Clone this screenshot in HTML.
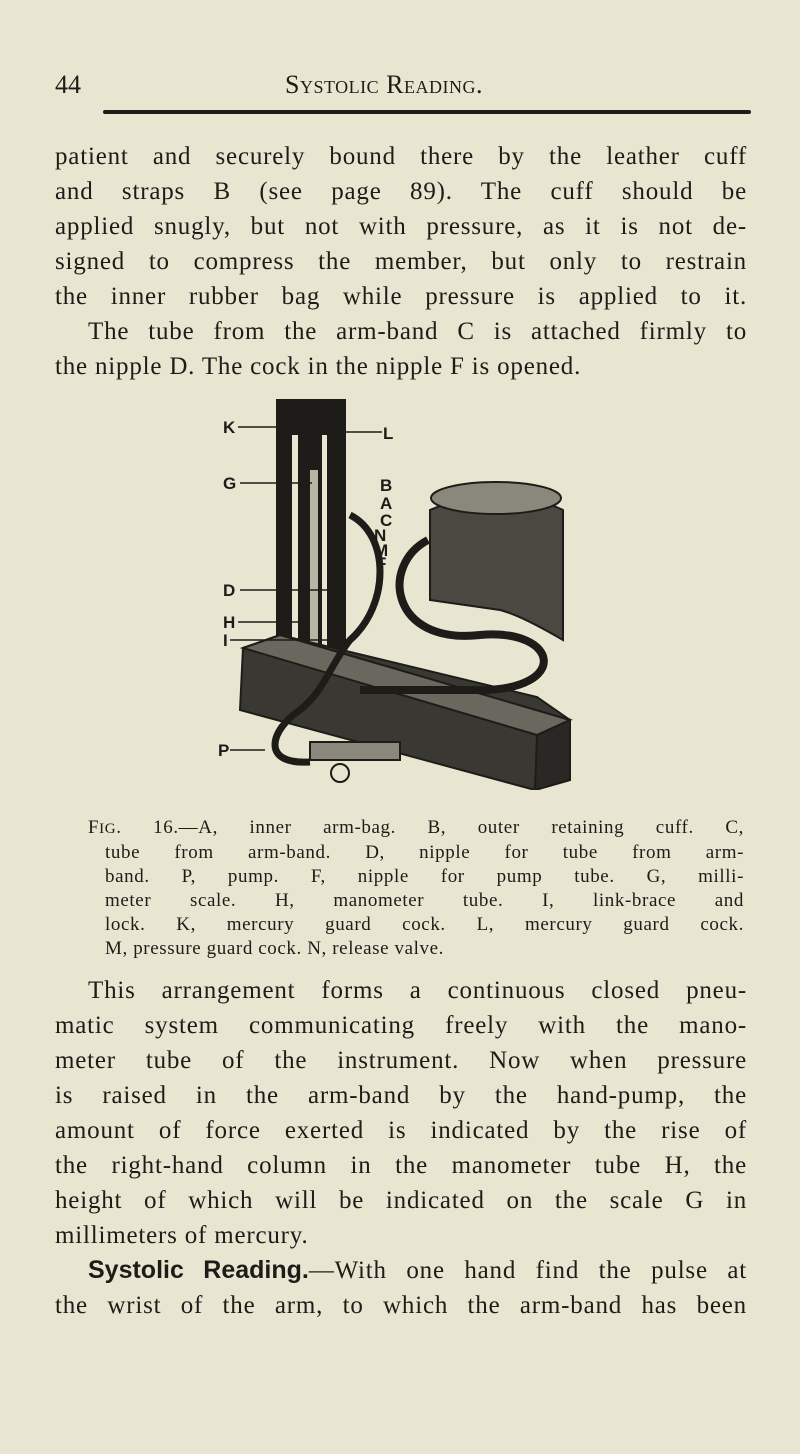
<!DOCTYPE html>
<html><head><meta charset="utf-8"><style>
html,body{margin:0;padding:0}
body{width:800px;height:1454px;background:#e8e5d1;position:relative;overflow:hidden;font-family:"Liberation Serif",serif;color:#1e1c18}
.hd{position:absolute;top:70px;font-family:"Liberation Serif",serif;font-size:26px;line-height:30px}
.rule{position:absolute;left:103px;top:110px;width:648px;height:4px;background:#1e1c18;border-radius:2px}
.p{position:absolute;left:55px;width:692px;font-size:25px;line-height:35px;letter-spacing:0.8px}
.p div{height:35px;text-align:justify;text-align-last:justify;white-space:nowrap}
.p div.l{text-align-last:left}
.cap{position:absolute;left:88px;width:656px;font-family:"Liberation Serif",serif;font-size:19px;line-height:24px;letter-spacing:0.6px}
.cap div{text-align:justify;text-align-last:justify;padding-left:17px;white-space:nowrap}
.cap div:first-child{padding-left:0}
.cap div.l{text-align-last:left}
</style></head><body>
<div class="hd" style="left:55px">44</div>
<div class="hd" style="left:285px;font-variant:small-caps;letter-spacing:0.5px">Systolic Reading.</div>
<div class="rule"></div>
<div class="p" style="top:139px">
<div>patient and securely bound there by the leather cuff</div>
<div>and straps B (see page 89). The cuff should be</div>
<div>applied snugly, but not with pressure, as it is not de-</div>
<div>signed to compress the member, but only to restrain</div>
<div>the inner rubber bag while pressure is applied to it.</div>
<div style="padding-left:33px">The tube from the arm-band C is attached firmly to</div>
<div class="l">the nipple D. The cock in the nipple F is opened.</div>
</div>
<svg style="position:absolute;left:200px;top:390px" width="400" height="400" viewBox="0 0 400 400">
<g stroke="#1e1c18" fill="none" stroke-width="2">
<rect x="77" y="10" width="68" height="268" fill="#1e1c18"/>
<rect x="92" y="45" width="6" height="225" fill="#e8e5d1" stroke="none"/>
<rect x="110" y="80" width="8" height="190" fill="#b8b5a4" stroke="none"/>
<rect x="122" y="45" width="5" height="225" fill="#e8e5d1" stroke="none"/>
<path d="M43 258 L80 245 L337 307 L370 330 L370 390 L335 400 L40 320 Z" fill="#3a3833"/>
<path d="M43 258 L80 245 L370 330 L337 345 Z" fill="#6a675e"/>
<path d="M337 345 L370 330 L370 390 L335 400Z" fill="#2a2824"/>
<path d="M230 120 Q300 90 363 120 L363 250 Q320 225 300 220 L230 210 Z" fill="#4a4841"/>
<ellipse cx="296" cy="108" rx="65" ry="16" fill="#8a877c"/>
<path d="M228 150 C180 175 190 255 280 245 C360 238 370 300 280 300 C210 300 180 300 160 300" stroke-width="8"/>
<path d="M150 125 C190 145 190 215 150 250 C130 275 125 300 100 320 C70 340 60 375 110 372" stroke-width="7"/>
<rect x="110" y="352" width="90" height="18" fill="#8a877c"/>
<circle cx="140" cy="383" r="9"/>
</g>
<g font-family="Liberation Sans,sans-serif" font-weight="bold" font-size="17" fill="#1e1c18">
<text x="23" y="43">K</text><line x1="38" y1="37" x2="82" y2="37" stroke="#1e1c18" stroke-width="1.5"/>
<text x="183" y="49">L</text><line x1="130" y1="42" x2="182" y2="42" stroke="#1e1c18" stroke-width="1.5"/>
<text x="23" y="99">G</text><line x1="40" y1="93" x2="112" y2="93" stroke="#1e1c18" stroke-width="1.5"/>
<text x="180" y="101">B</text><text x="180" y="119">A</text><text x="180" y="136">C</text>
<text x="174" y="151">N</text><text x="174" y="166">M</text><text x="176" y="179">F</text>
<text x="23" y="206">D</text><line x1="40" y1="200" x2="140" y2="200" stroke="#1e1c18" stroke-width="1.5"/>
<text x="23" y="238">H</text><line x1="38" y1="232" x2="100" y2="232" stroke="#1e1c18" stroke-width="1.5"/>
<text x="23" y="256">I</text><line x1="30" y1="250" x2="150" y2="250" stroke="#1e1c18" stroke-width="1.5"/>
<text x="18" y="366">P</text><line x1="30" y1="360" x2="65" y2="360" stroke="#1e1c18" stroke-width="1.5"/>
</g>
</svg>
<div class="cap" style="top:816px">
<div>F<span style="font-size:15px">IG</span>. 16.—A, inner arm-bag. B, outer retaining cuff. C,</div>
<div>tube from arm-band. D, nipple for tube from arm-</div>
<div>band. P, pump. F, nipple for pump tube. G, milli-</div>
<div>meter scale. H, manometer tube. I, link-brace and</div>
<div>lock. K, mercury guard cock. L, mercury guard cock.</div>
<div class="l">M, pressure guard cock. N, release valve.</div>
</div>
<div class="p" style="top:973px">
<div style="padding-left:33px">This arrangement forms a continuous closed pneu-</div>
<div>matic system communicating freely with the mano-</div>
<div>meter tube of the instrument. Now when pressure</div>
<div>is raised in the arm-band by the hand-pump, the</div>
<div>amount of force exerted is indicated by the rise of</div>
<div>the right-hand column in the manometer tube H, the</div>
<div>height of which will be indicated on the scale G in</div>
<div class="l">millimeters of mercury.</div>
<div style="padding-left:33px"><b style="font-family:'Liberation Sans',sans-serif;letter-spacing:0">Systolic Reading.</b>—With one hand find the pulse at</div>
<div>the wrist of the arm, to which the arm-band has been</div>
</div>
</body></html>
